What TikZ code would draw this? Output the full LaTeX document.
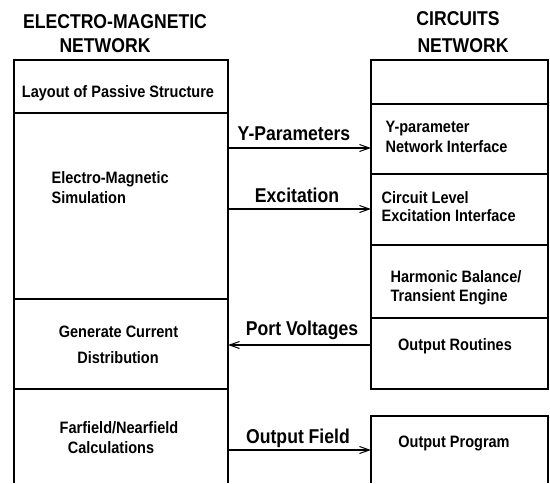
\documentclass[tikz,border=0pt]{standalone}
\usepackage{fontspec}
\newfontfamily\dfont{Liberation Sans}[FakeStretch=0.88]
\usetikzlibrary{arrows.meta}
\begin{document}
\begin{tikzpicture}[x=1pt,y=-1pt,
  line width=1.3pt,
  box/.style={draw,rectangle,inner sep=0pt,outer sep=0pt},
  openbox/.style={rectangle,inner sep=0pt,outer sep=0pt},
  txt/.style={font=\dfont\bfseries\fontsize{16.5}{19}\selectfont,inner sep=0pt},
  head/.style={font=\dfont\bfseries\fontsize{20}{24}\selectfont,inner sep=0pt,anchor=base},
  lbl/.style={font=\dfont\bfseries\fontsize{20}{24}\selectfont,inner sep=0pt,anchor=base},
  arr/.style={-{Straight Barb[length=10pt,width=7pt,line width=1pt]},line width=1.1pt}]
\useasboundingbox (0,0) rectangle (550,483);
% headings
\node[head] (h1) at (115,28) {ELECTRO-MAGNETIC};
\node[head] (h2) at (105,52) {NETWORK};
\node[head] (h3) at (458,25) {CIRCUITS};
\node[head] (h4) at (463,52) {NETWORK};
% left column
\node[box,minimum width=214pt,minimum height=53pt] (lay) at (121,86.5) {};
\node[box,minimum width=214pt,minimum height=186pt] (sim) at (121,206) {};
\node[box,minimum width=214pt,minimum height=90pt] (gen) at (121,344) {};
\node[openbox,minimum width=214pt,minimum height=94pt] (ff) at (121,436) {};
\draw (ff.south west) -- (ff.north west) -- (ff.north east) -- (ff.south east);
% right column
\node[box,minimum width=177pt,minimum height=44pt] (rtop) at (459.5,82) {};
\node[box,minimum width=177pt,minimum height=70pt] (yint) at (459.5,139) {};
\node[box,minimum width=177pt,minimum height=71pt] (cint) at (459.5,209.5) {};
\node[box,minimum width=177pt,minimum height=73pt] (heng) at (459.5,281.5) {};
\node[box,minimum width=177pt,minimum height=71pt] (outr) at (459.5,353.5) {};
\node[openbox,minimum width=177pt,minimum height=67pt] (outp) at (459.5,449.5) {};
\draw (outp.south west) -- (outp.north west) -- (outp.north east) -- (outp.south east);
% box texts
\node[txt,anchor=base] (t1) at (118,97) {Layout of Passive Structure};
\node[txt,anchor=base west] (t2) at (51,183) {Electro-Magnetic};
\node[txt,anchor=base west] (t3) at (51,203) {Simulation};
\node[txt,anchor=base] (t4) at (118.5,337) {Generate Current};
\node[txt,anchor=base] (t5) at (118,363) {Distribution};
\node[txt,anchor=base] (t6) at (119,433) {Farfield/Nearfield};
\node[txt,anchor=base] (t7) at (111,453) {Calculations};
\node[txt,anchor=base west] (t8) at (385,132) {Y-parameter};
\node[txt,anchor=base west] (t9) at (385,152) {Network Interface};
\node[txt,anchor=base west] (t10) at (381,203) {Circuit Level};
\node[txt,anchor=base west] (t11) at (381,221) {Excitation Interface};
\node[txt,anchor=base west] (t12) at (390,282) {Harmonic Balance/};
\node[txt,anchor=base west] (t13) at (390,301) {Transient Engine};
\node[txt,anchor=base] (t14) at (455,350) {Output Routines};
\node[txt,anchor=base] (t15) at (454,447) {Output Program};
% connectors
\draw[arr] (sim.east |- 0,148) -- (yint.west |- 0,148);
\draw[arr] (sim.east |- 0,209) -- (cint.west |- 0,209);
\draw[arr] (outr.west |- 0,345) -- (gen.east |- 0,345);
\draw[arr] (ff.east |- 0,450) -- (outp.west |- 0,450);
% connector labels
\node[lbl] (l1) at (294,140) {Y-Parameters};
\node[lbl] (l2) at (297,202) {Excitation};
\node[lbl] (l3) at (302,335) {Port Voltages};
\node[lbl] (l4) at (298,443) {Output Field};
\end{tikzpicture}
\end{document}
